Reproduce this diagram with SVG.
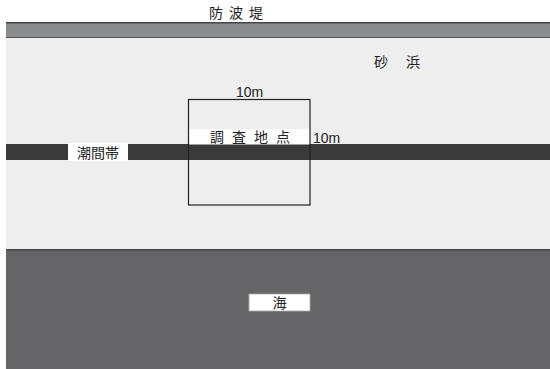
<svg xmlns="http://www.w3.org/2000/svg" width="550" height="369" viewBox="0 0 550 369">
<style>
.t{font-family:"Noto Sans CJK JP","Noto Sans",sans-serif;font-size:14px;fill:#222}
.m{font-family:"Liberation Sans",Arial,sans-serif;font-size:14px;fill:#222}
</style>
<rect width="550" height="369" fill="#fff"/>
<g id="breakwater">
<rect x="6" y="22" width="544" height="16" fill="#8b8c8e"/>
<rect x="6" y="22" width="544" height="1.5" fill="#444"/>
<rect x="6" y="37" width="544" height="1" fill="#555"/>
<text class="t" x="239" y="18" text-anchor="middle" letter-spacing="6">防波堤</text>
</g>
<g id="beach">
<rect x="6" y="38" width="544" height="211" fill="#eeeeee"/>
<text class="t" x="406" y="67" text-anchor="middle" letter-spacing="18">砂浜</text>
</g>
<g id="sea">
<rect x="6" y="249" width="544" height="120" fill="#656568"/>
<rect x="6" y="249" width="544" height="1.5" fill="#444"/>
<rect x="249" y="294" width="61" height="17" fill="#fff" stroke="#aaa" stroke-width="0.8"/>
<text class="t" x="279.5" y="308" text-anchor="middle">海</text>
</g>
<g id="intertidal">
<rect x="6" y="144" width="544" height="16" fill="#3a3a3a"/>
<rect x="68" y="143" width="60" height="18" fill="#fff"/>
<text class="t" x="98" y="158" text-anchor="middle" font-size="15.5">潮間帯</text>
</g>
<g id="site">
<rect x="188" y="129" width="122" height="15.5" fill="#fff"/>
<rect x="188.5" y="99.5" width="121.5" height="105.5" fill="none" stroke="#222" stroke-width="1.2"/>
<text class="t" x="254" y="142" text-anchor="middle" letter-spacing="8">調査地点</text>
<text class="m" x="249.5" y="97" text-anchor="middle">10m</text>
<text class="m" x="313" y="142.5">10m</text>
</g>
</svg>
